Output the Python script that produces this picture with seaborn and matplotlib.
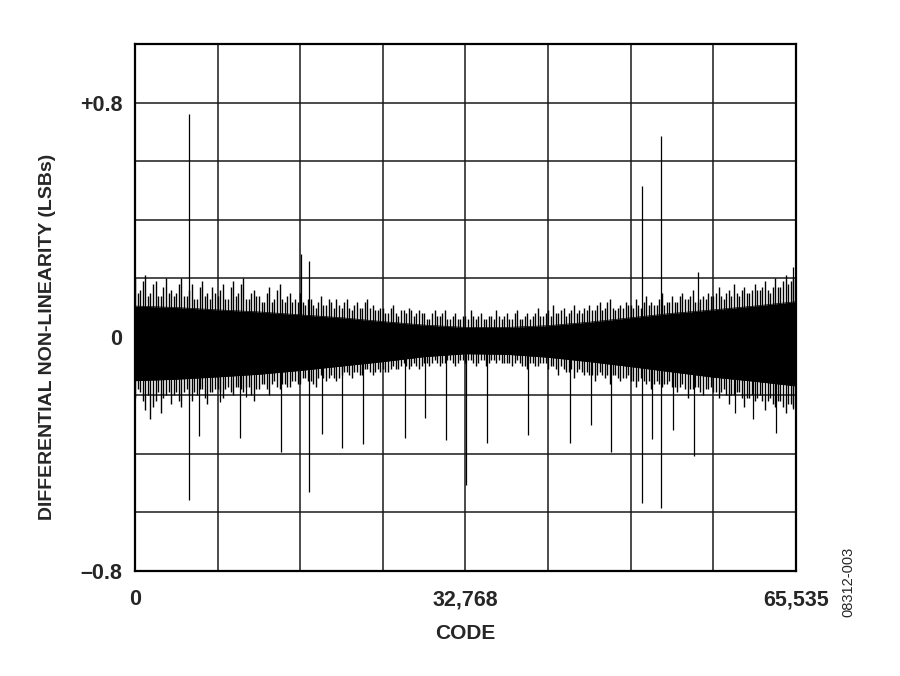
import numpy as np
import pandas as pd
import matplotlib
matplotlib.use("Agg")
import matplotlib.pyplot as plt
import seaborn as sns

# DNL band
core_codes = [0, 4096, 8192, 12288, 16384, 20480, 24576, 28672, 32768,
              36864, 40960, 45056, 49152, 53248, 57344, 61440, 65535]
core_hi = [0.105, 0.10, 0.092, 0.085, 0.075, 0.065, 0.052, 0.04, 0.032,
           0.032, 0.038, 0.05, 0.065, 0.08, 0.092, 0.105, 0.12]
core_lo = [-0.15, -0.145, -0.137, -0.128, -0.115, -0.10, -0.085, -0.068, -0.058,
           -0.06, -0.07, -0.085, -0.102, -0.12, -0.138, -0.152, -0.168]

# noise tips, one every 256 codes
tip_codes = np.arange(0, 65537, 256).clip(max=65535)
tip_hi = [0.20, 0.15, 0.16, 0.19, 0.21, 0.14, 0.15, 0.18, 0.19, 0.14, 0.14, 0.17, 0.20, 0.15, 0.16, 0.14,
          0.15, 0.18, 0.20, 0.14, 0.14, 0.16, 0.18, 0.13, 0.13, 0.17, 0.19, 0.14, 0.15, 0.13, 0.17, 0.15,
          0.14, 0.16, 0.18, 0.13, 0.13, 0.17, 0.19, 0.14, 0.15, 0.18, 0.20, 0.13, 0.13, 0.15, 0.16, 0.14,
          0.14, 0.12, 0.12, 0.15, 0.17, 0.12, 0.13, 0.16, 0.18, 0.13, 0.12, 0.14, 0.15, 0.12, 0.13, 0.12,
          0.15, 0.12, 0.11, 0.13, 0.13, 0.11, 0.10, 0.12, 0.14, 0.11, 0.11, 0.13, 0.12, 0.10, 0.13, 0.11,
          0.10, 0.12, 0.13, 0.10, 0.09, 0.11, 0.12, 0.10, 0.10, 0.12, 0.13, 0.10, 0.11, 0.09, 0.09, 0.10,
          0.10, 0.08, 0.08, 0.10, 0.11, 0.08, 0.07, 0.09, 0.09, 0.08, 0.10, 0.09, 0.07, 0.08, 0.09, 0.08,
          0.08, 0.06, 0.06, 0.08, 0.09, 0.07, 0.07, 0.08, 0.09, 0.06, 0.06, 0.07, 0.08, 0.06, 0.06, 0.07,
          0.07, 0.06, 0.09, 0.07, 0.06, 0.07, 0.08, 0.06, 0.06, 0.07, 0.07, 0.06, 0.09, 0.07, 0.06, 0.07,
          0.08, 0.06, 0.06, 0.08, 0.09, 0.06, 0.06, 0.07, 0.08, 0.06, 0.07, 0.08, 0.10, 0.07, 0.07, 0.08,
          0.09, 0.07, 0.11, 0.08, 0.08, 0.09, 0.10, 0.07, 0.08, 0.09, 0.11, 0.08, 0.09, 0.08, 0.10, 0.09,
          0.11, 0.09, 0.09, 0.11, 0.12, 0.09, 0.10, 0.12, 0.13, 0.10, 0.09, 0.10, 0.11, 0.10, 0.12, 0.11,
          0.11, 0.10, 0.13, 0.11, 0.10, 0.12, 0.14, 0.11, 0.12, 0.11, 0.11, 0.13, 0.15, 0.11, 0.12, 0.12,
          0.14, 0.12, 0.12, 0.14, 0.15, 0.13, 0.13, 0.14, 0.16, 0.12, 0.12, 0.13, 0.14, 0.13, 0.15, 0.14,
          0.14, 0.15, 0.17, 0.14, 0.13, 0.15, 0.16, 0.14, 0.18, 0.15, 0.14, 0.16, 0.17, 0.15, 0.15, 0.16,
          0.18, 0.16, 0.16, 0.17, 0.19, 0.16, 0.15, 0.17, 0.20, 0.17, 0.17, 0.19, 0.21, 0.18, 0.19, 0.20,
          0.22]
tip_lo = [-0.21, -0.18, -0.19, -0.22, -0.25, -0.20, -0.28, -0.24, -0.22, -0.19, -0.26, -0.21, -0.20, -0.19, -0.23, -0.20,
          -0.19, -0.22, -0.24, -0.19, -0.18, -0.20, -0.22, -0.19, -0.20, -0.18, -0.18, -0.21, -0.23, -0.19, -0.19, -0.18,
          -0.18, -0.19, -0.21, -0.18, -0.17, -0.19, -0.20, -0.17, -0.17, -0.18, -0.19, -0.17, -0.17, -0.20, -0.22, -0.18,
          -0.18, -0.16, -0.16, -0.18, -0.20, -0.16, -0.15, -0.17, -0.18, -0.16, -0.16, -0.17, -0.17, -0.15, -0.15, -0.16,
          -0.16, -0.14, -0.14, -0.15, -0.15, -0.16, -0.17, -0.14, -0.13, -0.14, -0.15, -0.14, -0.13, -0.14, -0.15, -0.14,
          -0.13, -0.12, -0.12, -0.13, -0.14, -0.12, -0.12, -0.13, -0.13, -0.11, -0.11, -0.12, -0.13, -0.12, -0.11, -0.12,
          -0.11, -0.12, -0.12, -0.11, -0.10, -0.11, -0.11, -0.10, -0.09, -0.10, -0.11, -0.10, -0.09, -0.10, -0.11, -0.10,
          -0.09, -0.09, -0.10, -0.09, -0.08, -0.09, -0.10, -0.09, -0.09, -0.08, -0.08, -0.09, -0.10, -0.09, -0.08, -0.08,
          -0.09, -0.08, -0.08, -0.09, -0.10, -0.09, -0.08, -0.08, -0.10, -0.09, -0.08, -0.08, -0.09, -0.08, -0.09, -0.09,
          -0.09, -0.09, -0.10, -0.09, -0.08, -0.09, -0.10, -0.10, -0.11, -0.09, -0.09, -0.10, -0.10, -0.09, -0.09, -0.09,
          -0.11, -0.10, -0.10, -0.11, -0.13, -0.10, -0.11, -0.12, -0.12, -0.11, -0.14, -0.12, -0.11, -0.12, -0.13, -0.12,
          -0.13, -0.13, -0.15, -0.13, -0.12, -0.13, -0.14, -0.13, -0.16, -0.13, -0.13, -0.14, -0.15, -0.14, -0.14, -0.13,
          -0.15, -0.15, -0.17, -0.15, -0.14, -0.15, -0.16, -0.15, -0.18, -0.16, -0.15, -0.16, -0.17, -0.16, -0.16, -0.15,
          -0.17, -0.17, -0.19, -0.17, -0.16, -0.18, -0.21, -0.18, -0.18, -0.17, -0.17, -0.19, -0.20, -0.18, -0.18, -0.17,
          -0.19, -0.19, -0.21, -0.19, -0.18, -0.20, -0.23, -0.20, -0.20, -0.19, -0.19, -0.21, -0.24, -0.21, -0.21, -0.20,
          -0.22, -0.21, -0.20, -0.22, -0.25, -0.22, -0.21, -0.23, -0.24, -0.22, -0.22, -0.24, -0.26, -0.23, -0.23, -0.24,
          -0.25]

# isolated code spikes
spike_codes = [5354, 6300, 8430, 10420, 10975, 14490, 16500, 17262, 18580, 20570,
               22650, 26730, 28770, 30850, 32850, 34930, 39010, 43090, 45170,
               47160, 50230, 51250, 52180, 53370, 55400, 55830, 59480, 61310,
               63600, 65240]
spike_hi = [0.761, 0.0, 0.0, 0.0, 0.0, 0.0, 0.284, 0.26, 0.0, 0.0,
            0.0, 0.0, 0.0, 0.0, 0.0, 0.0, 0.0, 0.0, 0.0,
            0.0, 0.515, 0.0, 0.685, 0.0, 0.0, 0.22, 0.0, 0.0,
            0.0, 0.238]
spike_lo = [-0.557, -0.34, -0.223, -0.347, -0.206, -0.392, 0.0, -0.529, -0.332, -0.381,
            -0.366, -0.347, -0.278, -0.354, -0.507, -0.363, -0.334, -0.364, -0.301,
            -0.395, -0.569, -0.349, -0.585, -0.317, -0.406, 0.0, -0.26, -0.28,
            -0.329, -0.246]

sns.set_style("white")
plt.rcParams['font.family'] = ['Liberation Sans', 'DejaVu Sans']

fig, ax = plt.subplots(figsize=(9, 6.76), dpi=100)
fig.subplots_adjust(left=0.15, right=0.8844, top=0.9349, bottom=0.1553)

core = pd.DataFrame({'code': core_codes, 'hi': core_hi, 'lo': core_lo})
tips = pd.DataFrame({'code': tip_codes, 'hi': tip_hi, 'lo': tip_lo})

# solid core plus dense noise strokes
ax.fill_between(core['code'], core['lo'], core['hi'], color='black', lw=0, zorder=2)
sns.lineplot(data=core, x='code', y='hi', color='black', lw=0.5, ax=ax, zorder=2)
sns.lineplot(data=core, x='code', y='lo', color='black', lw=0.5, ax=ax, zorder=2)

ax.vlines(tips['code'], tips['lo'], tips['hi'], color='black', lw=1.0, zorder=3)
ax.vlines(spike_codes, spike_lo, spike_hi, color='black', lw=0.9, zorder=3)

ax.set_xlim(0, 65535)
ax.set_ylim(-0.8, 1.0)

xt = np.arange(0, 65536 + 8192, 8192).clip(max=65535)
ax.set_xticks(xt)
ax.set_xticklabels(['0', '', '', '', '32,768', '', '', '', '65,535'])
yt = [-0.8, -0.6, -0.4, -0.2, 0.0, 0.2, 0.4, 0.6, 0.8]
ax.set_yticks(yt)
ax.set_yticklabels(['\u20130.8', '', '', '', '0', '', '', '', '+0.8'])

ax.grid(True, color='#1a1a1a', lw=1.1, zorder=1)
ax.set_axisbelow(True)
ax.tick_params(axis='both', length=0, labelsize=15.5)
ax.tick_params(axis='x', pad=13)
ax.tick_params(axis='y', pad=9)
for lab in ax.get_xticklabels() + ax.get_yticklabels():
    lab.set_fontweight('bold')

for s in ax.spines.values():
    s.set_visible(True)
    s.set_color('black')
    s.set_linewidth(1.6)

ax.set_xlabel('CODE', fontsize=15, fontweight='bold', labelpad=10)
ax.set_ylabel('DIFFERENTIAL NON-LINEARITY (LSBs)', fontsize=14,
              fontweight='bold', labelpad=18)
ax.yaxis.set_label_coords(-0.12, 0.444)

fig.text(0.943, 0.139, '08312-003', rotation=90, fontsize=10.5,
         ha='center', va='center')

fig.savefig('out.png', dpi=100)
